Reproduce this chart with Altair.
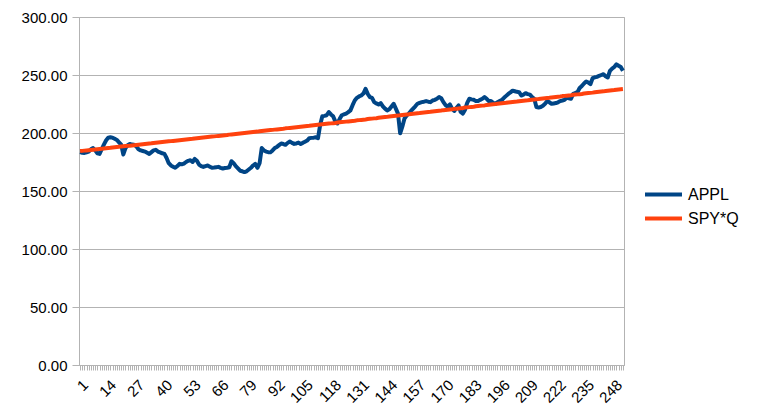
import altair as alt
import pandas as pd

appl = [
    183.5, 183.0, 182.8, 183.4, 184.0, 186.0, 187.0, 185.0, 182.5, 182.0,
    186.0, 190.0, 193.5, 196.0, 196.3, 196.0, 195.0, 194.0, 192.0, 190.0,
    181.5, 187.0, 189.5, 190.6, 190.0, 189.8, 188.5, 186.0, 185.0, 184.5,
    184.0, 183.0, 182.0, 183.5, 185.0, 185.5, 184.0, 183.3, 182.5, 182.0,
    178.5, 174.0, 172.0, 171.0, 170.0, 171.5, 173.4, 173.0, 173.6, 175.0,
    176.0, 176.5, 175.0, 177.6, 176.0, 172.8, 171.5, 170.8, 171.5, 172.0,
    171.0, 170.0, 170.2, 170.5, 170.8, 170.0, 169.4, 169.8, 170.0, 170.5,
    175.7, 174.0, 171.4, 169.5, 167.5, 167.0, 166.3, 167.0, 168.5, 170.0,
    172.0, 173.4, 170.0, 174.0, 187.0, 185.0, 184.0, 183.5, 183.3, 185.0,
    187.0, 188.0, 189.5, 191.0, 190.5, 189.8, 191.5, 192.6, 191.5, 190.6,
    191.0, 191.7, 190.6, 191.5, 192.5, 193.5, 195.5, 195.8, 196.0, 196.3,
    195.5, 206.8, 214.4, 214.8, 215.3, 218.1, 216.0, 214.4, 210.0, 208.2,
    212.0, 215.3, 216.0, 216.7, 218.0, 219.5, 224.0, 228.0, 230.3, 231.5,
    232.3, 234.0, 238.0, 233.7, 231.0, 230.3, 226.6, 225.5, 224.6, 225.8,
    223.0, 221.0, 219.5, 220.5, 222.9, 225.2, 221.0, 216.7, 199.7, 205.4,
    212.5, 215.0, 216.7, 219.0, 221.0, 223.0, 225.2, 226.0, 226.6, 227.0,
    227.5, 227.0, 226.6, 228.0, 228.6, 229.5, 231.0, 230.0, 226.6, 224.0,
    222.9, 224.6, 221.0, 219.0, 221.5, 223.8, 218.1, 216.7, 220.1, 226.0,
    229.5, 229.0, 228.6, 227.5, 227.5, 228.6, 229.5, 231.0, 229.5, 227.5,
    227.5, 226.0, 225.2, 226.5, 227.5, 228.5, 230.3, 232.0, 233.7, 235.0,
    236.5, 236.0, 235.5, 235.2, 232.3, 233.0, 234.3, 233.5, 233.1, 231.0,
    229.5, 222.4, 222.0, 222.4, 223.5, 225.2, 227.5, 226.5, 225.2, 225.5,
    225.8, 226.5, 227.5, 228.0, 228.6, 230.3, 230.0, 229.5, 233.7, 234.5,
    235.2, 238.8, 240.5, 242.7, 244.4, 243.5, 242.2, 247.3, 248.0, 248.4,
    249.3, 250.0, 250.7, 249.0, 247.9, 253.6, 255.5, 256.9, 259.2, 258.0,
    256.9, 253.6,
]

spyq = [
    184.4, 184.6, 184.8, 185.0, 185.2, 185.4, 185.6, 185.8, 186.0, 186.2,
    186.4, 186.6, 186.8, 187.0, 187.2, 187.5, 187.7, 187.9, 188.1, 188.3,
    188.5, 188.7, 188.9, 189.1, 189.3, 189.5, 189.7, 189.9, 190.1, 190.3,
    190.5, 190.7, 190.9, 191.1, 191.4, 191.6, 191.8, 192.0, 192.2, 192.4,
    192.6, 192.8, 193.0, 193.2, 193.4, 193.6, 193.8, 194.0, 194.2, 194.4,
    194.6, 194.8, 195.0, 195.3, 195.5, 195.7, 195.9, 196.1, 196.3, 196.5,
    196.7, 196.9, 197.1, 197.3, 197.5, 197.7, 197.9, 198.1, 198.3, 198.6,
    198.8, 199.0, 199.2, 199.4, 199.6, 199.8, 200.0, 200.2, 200.4, 200.6,
    200.8, 201.0, 201.2, 201.5, 201.7, 201.9, 202.1, 202.3, 202.5, 202.7,
    202.9, 203.1, 203.3, 203.5, 203.7, 204.0, 204.2, 204.4, 204.6, 204.8,
    205.0, 205.2, 205.4, 205.6, 205.8, 206.0, 206.2, 206.5, 206.7, 206.9,
    207.1, 207.3, 207.5, 207.7, 207.9, 208.1, 208.3, 208.5, 208.7, 209.0,
    209.2, 209.4, 209.6, 209.8, 210.0, 210.2, 210.4, 210.6, 210.9, 211.1,
    211.3, 211.5, 211.7, 212.0, 212.2, 212.4, 212.6, 212.8, 213.1, 213.3,
    213.5, 213.7, 213.9, 214.2, 214.4, 214.6, 214.8, 215.0, 215.3, 215.5,
    215.7, 215.9, 216.1, 216.4, 216.6, 216.8, 217.0, 217.2, 217.5, 217.7,
    217.9, 218.1, 218.3, 218.6, 218.8, 219.0, 219.2, 219.4, 219.7, 219.9,
    220.1, 220.3, 220.5, 220.8, 221.0, 221.2, 221.4, 221.6, 221.9, 222.1,
    222.3, 222.5, 222.7, 223.0, 223.2, 223.4, 223.6, 223.8, 224.1, 224.3,
    224.5, 224.7, 224.9, 225.2, 225.4, 225.6, 225.8, 226.0, 226.3, 226.5,
    226.7, 226.9, 227.1, 227.4, 227.6, 227.8, 228.0, 228.2, 228.5, 228.7,
    228.9, 229.1, 229.3, 229.6, 229.8, 230.0, 230.2, 230.4, 230.7, 230.9,
    231.1, 231.3, 231.5, 231.8, 232.0, 232.2, 232.4, 232.6, 232.9, 233.1,
    233.3, 233.5, 233.7, 234.0, 234.2, 234.4, 234.6, 234.8, 235.1, 235.3,
    235.5, 235.7, 235.9, 236.2, 236.4, 236.6, 236.8, 237.0, 237.3, 237.5,
    237.7, 237.9,
]

series_names = ["APPL", "SPY*Q"]
colors = ["#004586", "#ff420e"]
days = list(range(1, len(appl) + 1))

rows = []
for d, a in zip(days, appl):
    rows.append({"day": d, "value": a, "series": "APPL"})
for d, s in zip(days, spyq):
    rows.append({"day": d, "value": s, "series": "SPY*Q"})
df = pd.DataFrame(rows)

font = "Liberation Sans"

chart = alt.Chart(df).mark_line(strokeWidth=4, strokeJoin="round").encode(
    x=alt.X(
        "day:Q",
        scale=alt.Scale(domain=[0.5, len(days) + 0.5], nice=False, zero=False),
        axis=alt.Axis(
            title=None,
            values=days,
            format="d",
            labelExpr="(datum.value - 1) % 13 == 0 ? datum.label : ''",
            labelOverlap=False,
            labelAngle=-45,
            labelAlign="right",
            labelBaseline="top",
            labelPadding=7,
            labelFontSize=15,
            labelColor="#000000",
            tickSize=5,
            tickColor="#b3b3b3",
            domainColor="#b3b3b3",
            grid=False,
            labelFlush=False,
        ),
    ),
    y=alt.Y(
        "value:Q",
        scale=alt.Scale(domain=[0, 300], nice=False),
        axis=alt.Axis(
            title=None,
            values=[0, 50, 100, 150, 200, 250, 300],
            format=".2f",
            labelFontSize=15,
            labelColor="#000000",
            labelPadding=5,
            tickSize=7,
            tickColor="#b3b3b3",
            domainColor="#b3b3b3",
            gridColor="#b3b3b3",
            labelFlush=False,
        ),
    ),
    color=alt.Color(
        "series:N",
        scale=alt.Scale(domain=series_names, range=colors),
        legend=alt.Legend(
            title=None,
            orient="none",
            legendX=573,
            legendY=166,
            symbolType="M-2,0H2",
            symbolSize=342,
            symbolStrokeWidth=4,
            labelFontSize=16,
            labelColor="#000000",
            labelOffset=13,
            rowPadding=4,
        ),
    ),
).properties(
    width=545,
    height=348,
    autosize=alt.AutoSizeParams(type="none"),
    padding={"left": 71, "top": 9, "right": 120, "bottom": 40},
).configure(
    font=font,
).configure_view(
    stroke="#b3b3b3",
)

chart.save("out.html", embed_options={"renderer": "svg", "actions": False})
